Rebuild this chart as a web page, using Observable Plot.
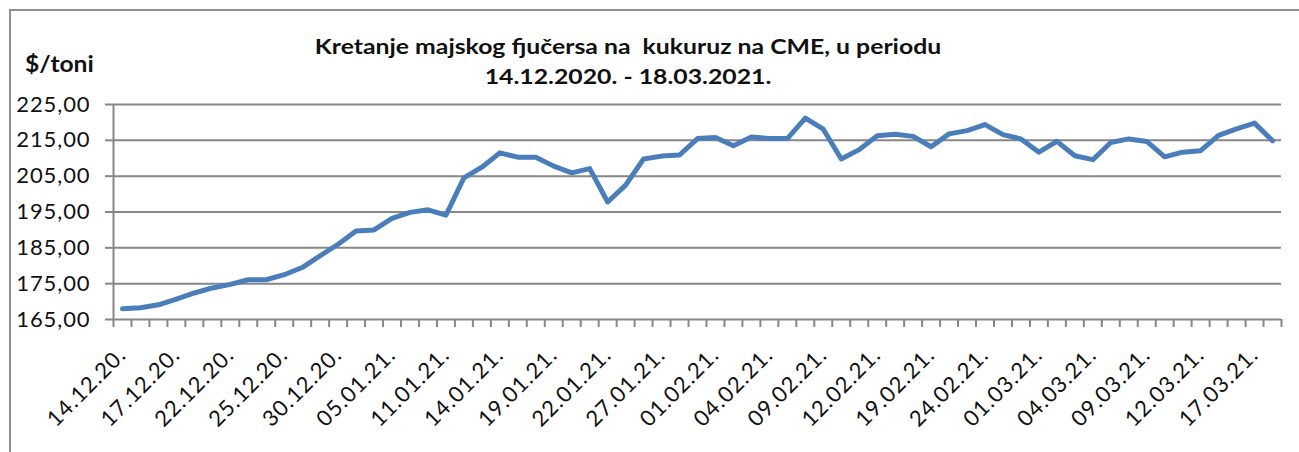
<!DOCTYPE html>
<html>
<head>
<meta charset="utf-8">
<script src="https://cdn.jsdelivr.net/npm/d3@7"></script>
<script src="https://cdn.jsdelivr.net/npm/@observablehq/plot@0.6"></script>
<style>
  html, body { margin: 0; padding: 0; background: #fff; }
  #wrap { position: relative; width: 1299px; height: 452px; overflow: hidden; background: #fff; }
  #frame { position: absolute; left: 9px; top: 9px; width: 1300px; height: 460px; border: 2px solid #8e8e8e; box-sizing: border-box; }
  #title { position: absolute; left: 0; top: 31px; width: 1256px; text-align: center; font-family: Lato, "Liberation Sans", sans-serif; font-weight: bold; font-size: 21px; line-height: 30px; color: #111; white-space: pre; transform: scaleX(1.18); transform-origin: 628px 0; }
  #unit { position: absolute; left: 25px; top: 50px; font-family: Lato, "Liberation Sans", sans-serif; font-weight: bold; font-size: 22px; color: #111; transform: scaleX(1.12); transform-origin: 0 0; }
  #chart { position: absolute; left: 0; top: 0; }
  #chart svg g[aria-label="y-axis tick label"] text { letter-spacing: 0.9px; }
  #chart svg g[aria-label="x-axis tick label"] text { letter-spacing: 1px; }
</style>
</head>
<body>
<div id="wrap">
  <div id="frame"></div>
  <div id="chart"></div>
  <div id="title">Kretanje majskog fjučersa na  kukuruz na CME, u periodu
14.12.2020. - 18.03.2021.</div>
  <div id="unit">$/toni</div>
</div>
<script>
const dates = [
  "14.12.20.","15.12.20.","16.12.20.","17.12.20.","18.12.20.","21.12.20.","22.12.20.","23.12.20.","24.12.20.","25.12.20.",
  "28.12.20.","29.12.20.","30.12.20.","31.12.20.","04.01.21.","05.01.21.","06.01.21.","08.01.21.","11.01.21.","12.01.21.",
  "13.01.21.","14.01.21.","15.01.21.","18.01.21.","19.01.21.","20.01.21.","21.01.21.","22.01.21.","25.01.21.","26.01.21.",
  "27.01.21.","28.01.21.","29.01.21.","01.02.21.","02.02.21.","03.02.21.","04.02.21.","05.02.21.","08.02.21.","09.02.21.",
  "10.02.21.","11.02.21.","12.02.21.","17.02.21.","18.02.21.","19.02.21.","22.02.21.","23.02.21.","24.02.21.","25.02.21.",
  "26.02.21.","01.03.21.","02.03.21.","03.03.21.","04.03.21.","05.03.21.","08.03.21.","09.03.21.","10.03.21.","11.03.21.",
  "12.03.21.","15.03.21.","16.03.21.","17.03.21.","18.03.21."
];
const prices = [
  168.0,168.3,169.1,170.7,172.4,173.8,174.8,176.1,176.1,177.5,
  179.5,182.8,186.0,189.7,190.0,193.2,194.9,195.6,194.1,204.5,
  207.5,211.5,210.3,210.3,207.8,205.9,207.1,197.8,202.5,209.8,
  210.6,210.9,215.5,215.8,213.5,215.9,215.5,215.5,221.2,218.1,
  209.8,212.4,216.3,216.7,216.1,213.2,216.8,217.7,219.4,216.6,
  215.4,211.7,214.7,210.7,209.6,214.4,215.4,214.7,210.4,211.7,
  212.1,216.4,218.2,219.8,214.9
];
const yTicks = [165, 175, 185, 195, 205, 215, 225];
const labelStep = 3;

const data = dates.map((d, i) => ({i, d, v: prices[i]}));
const n = dates.length;
const boundaries = d3.range(-0.5, n, 1);
const labelIdx = d3.range(0, n, labelStep);
const gray = "#878787";

const chart = Plot.plot({
  width: 1299,
  height: 452,
  marginLeft: 113,
  marginRight: 18,
  marginTop: 104,
  marginBottom: 133,
  style: {fontFamily: "Lato, 'Liberation Sans', sans-serif", background: "transparent", overflow: "visible", color: "#111"},
  x: {type: "linear", domain: [-0.5, n - 0.5], axis: null},
  y: {domain: [165, 225], axis: null},
  marks: [
    Plot.ruleY(yTicks, {stroke: gray, strokeWidth: 2}),
    Plot.ruleX([-0.5], {y1: 165, y2: 225, stroke: gray, strokeWidth: 2}),
    Plot.axisY(yTicks, {
      tickSize: 8, tickPadding: 15, fontSize: 22,
      stroke: gray, strokeWidth: 2, fill: "#111",
      tickFormat: d => d.toFixed(2).replace(".", ","),
      label: null
    }),
    Plot.axisX(boundaries, {
      tickSize: 8, stroke: gray, strokeWidth: 2,
      tickFormat: () => "", label: null
    }),
    Plot.axisX(labelIdx, {
      tickSize: 0, tickPadding: 32, tickRotate: -45, fontSize: 22, fill: "#111",
      tickFormat: i => dates[i], label: null
    }),
    Plot.line(data, {x: "i", y: "v", stroke: "#4a7ebb", strokeWidth: 5, strokeLinejoin: "round", strokeLinecap: "round"})
  ]
});
document.getElementById("chart").appendChild(chart);
</script>
</body>
</html>
